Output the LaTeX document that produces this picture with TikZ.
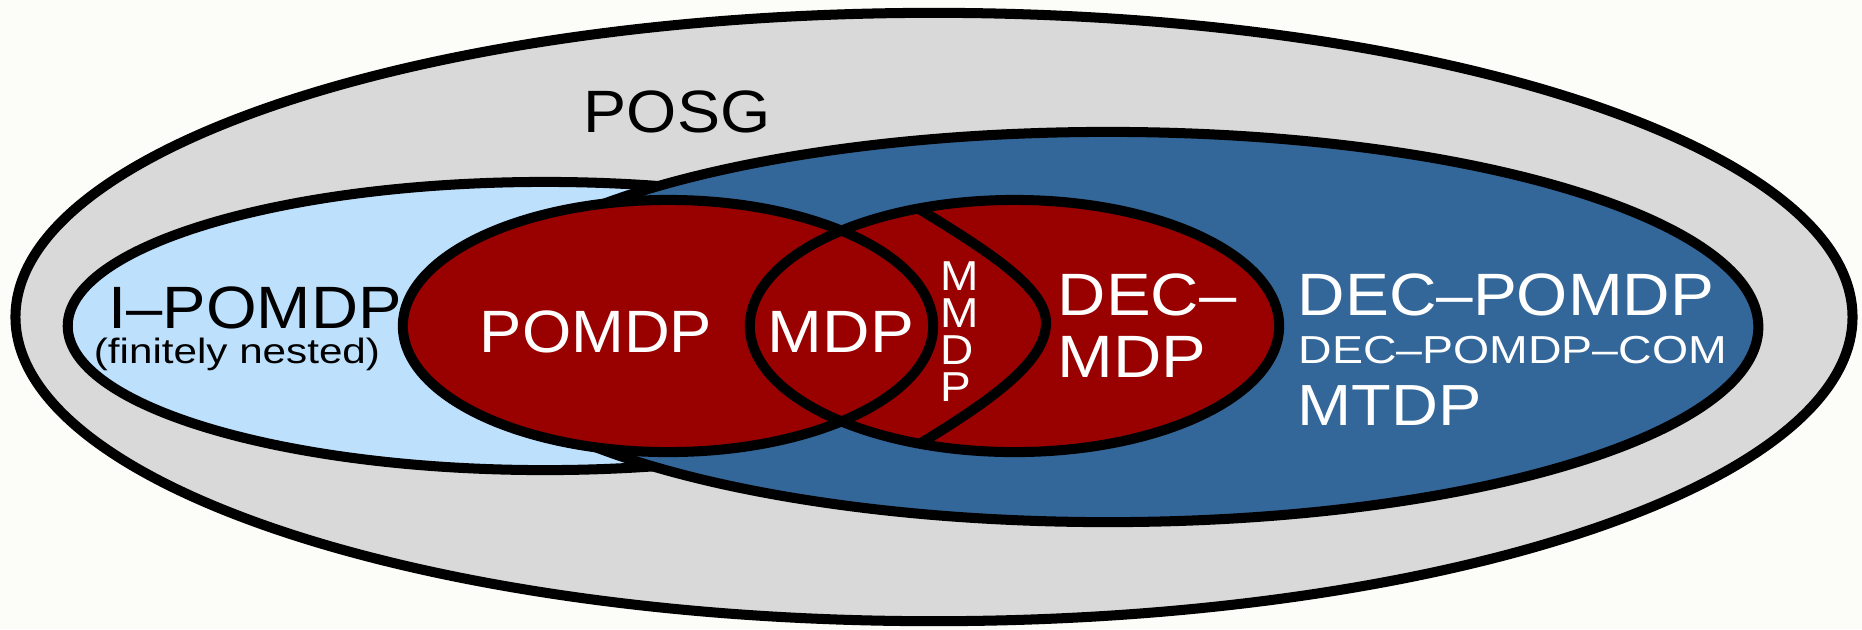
\documentclass[tikz,border=0pt]{standalone}
\usepackage{graphicx}
\usepackage{fontspec}
\setmainfont{Liberation Sans}
\usetikzlibrary{shapes.geometric}
\definecolor{paper}{RGB}{252,252,248}
\definecolor{posggray}{RGB}{217,217,217}
\definecolor{ipomdpblue}{RGB}{189,225,253}
\definecolor{decblue}{RGB}{51,102,153}
\definecolor{mdpred}{RGB}{153,0,0}
\tikzstyle{region}=[ellipse, inner sep=0pt, line width=2.85pt]
\tikzstyle{big}=[font=\fontsize{17}{20}\selectfont, inner sep=0pt]
\tikzstyle{mmdp}=[font=\fontsize{11.9}{13}\selectfont, inner sep=0pt, white]
\newcommand{\widen}[2]{\scalebox{#1}[1]{#2}}

\begin{document}
\begin{tikzpicture}[x=0.01cm, y=-0.01cm]
\fill[paper] (0,0) rectangle (1862,629);
\useasboundingbox (0,0) rectangle (1862,629);
%% nested regions
\node[region, draw, fill=posggray, minimum width=18.36cm, minimum height=6.08cm] (posg) at (934,317) {};
\node[region, draw, fill=ipomdpblue, minimum width=9.54cm, minimum height=2.88cm] (ipomdp) at (545,326) {};
\node[region, draw, fill=decblue, minimum width=13cm, minimum height=3.9cm] (decpomdp) at (1108,327) {};
%red ones: fill first, borders after
\node[region, fill=mdpred, minimum width=5.3cm, minimum height=2.52cm] (pomdp) at (668,326) {};
\node[region, fill=mdpred, minimum width=5.29cm, minimum height=2.52cm] (decmdp) at (1014.5,326) {};
\draw[line width=2.85pt] (pomdp.center) ellipse [x radius=2.65cm, y radius=1.26cm];
\draw[line width=2.85pt] (decmdp.center) ellipse [x radius=2.645cm, y radius=1.26cm];
%% MMDP boundary
\coordinate (mmdptop) at (919,209);
\coordinate (mmdpbot) at (921,443);
\draw[line width=2.85pt] (mmdptop) .. controls (1000,258) and (1048,292) .. (1046,325) .. controls (1044,360) and (1000,395) .. (mmdpbot);
%% labels
\node[big, anchor=base] (posglabel) at (677,132) {\widen{1.08}{POSG}};
\node[big, anchor=base] (ipomdplabel) at (255,328) {\widen{1.09}{I--POMDP}};
\node[font=\fontsize{10}{12}\selectfont, inner sep=0pt, anchor=base] (nested) at (237,363) {\widen{1.2}{(finitely nested)}};
\node[big, white, anchor=base] (pomdplabel) at (596,352) {\widen{1.06}{POMDP}};
\node[big, white, anchor=base] (mdplabel) at (841,352) {\widen{1.1}{MDP}};
\foreach \l [count=\i] in {M,M,D,P}
	\node[mmdp, anchor=base west] (mmdp\i) at (940,{253+37*\i}) {\widen{1.1}{\l}};
\node[big, white, anchor=base west] (decmdp1) at (1057,315) {\widen{1.12}{DEC--}};
\node[big, white, anchor=base west] (decmdp2) at (1057,377) {\widen{1.12}{MDP}};
\node[big, white, anchor=base west] (decpomdplabel) at (1297,315) {\widen{1.1}{DEC--POMDP}};
\node[font=\fontsize{11.1}{13}\selectfont, inner sep=0pt, white, anchor=base west] (comlabel) at (1298,363) {\widen{1.19}{DEC--POMDP--COM}};
\node[font=\fontsize{16.5}{19}\selectfont, inner sep=0pt, white, anchor=base west] (mtdplabel) at (1297,425) {\widen{1.12}{MTDP}};
\end{tikzpicture}
\end{document}
